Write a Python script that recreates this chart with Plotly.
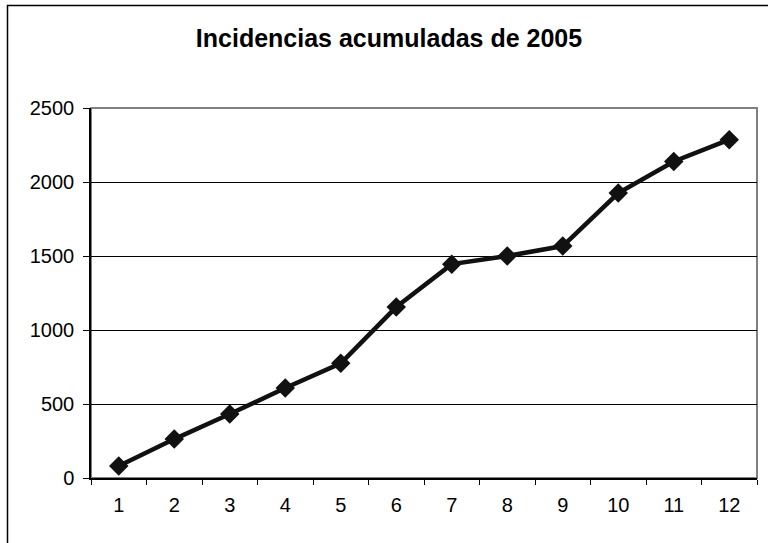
import plotly.graph_objects as go

months = ["1", "2", "3", "4", "5", "6", "7", "8", "9", "10", "11", "12"]
incidencias = [81, 263, 432, 608, 775, 1155, 1445, 1500, 1567, 1925, 2139, 2286]
y_ticks = [0, 500, 1000, 1500, 2000, 2500]
title_text = "Incidencias acumuladas de 2005"

FONT = "Liberation Sans, Arial, sans-serif"

fig = go.Figure()
fig.add_trace(go.Scatter(
    x=months, y=incidencias, mode="lines+markers",
    line=dict(color="#111111", width=4.5),
    marker=dict(symbol="diamond", size=15, color="#111111"),
    showlegend=False, cliponaxis=False,
))

W, H = 768, 543
L, R, T, B = 91, 11, 108, 65
pw, ph = W - L - R, H - T - B

def px_x(x):
    return (x - L) / pw

def px_y(y):
    return (H - B - y) / ph

fig.update_layout(
    width=W, height=H,
    margin=dict(l=L, r=R, t=T, b=B, pad=0),
    paper_bgcolor="white", plot_bgcolor="white",
    font=dict(family=FONT, color="black", size=20),
    title=dict(text="<b>" + title_text + "</b>", x=389 / W, xanchor="center",
               xref="container", yref="container", y=1 - 38 / H, yanchor="middle",
               font=dict(family=FONT, size=25, color="black")),
    xaxis=dict(
        type="category", tickson="boundaries", ticks="outside", ticklen=5,
        tickcolor="black", tickwidth=1, showline=True, linecolor="black",
        linewidth=1.5, showgrid=False, ticklabelstandoff=8,
        tickfont=dict(size=20, family=FONT, color="black"),
        range=[-0.5, 11.5], fixedrange=True,
    ),
    yaxis=dict(
        range=[0, 2500], tickvals=y_ticks, ticks="outside", ticklen=6,
        tickcolor="black", tickwidth=1, showline=True, linecolor="black",
        linewidth=1.5, showgrid=True, gridcolor="black", gridwidth=1,
        zeroline=False, ticklabelstandoff=5,
        tickfont=dict(size=20, family=FONT, color="black"),
    ),
    shapes=[
        dict(type="rect", xref="paper", yref="paper", x0=0, x1=1, y0=0, y1=1,
             line=dict(color="#808080", width=2), layer="below"),
        dict(type="rect", xref="paper", yref="paper",
             x0=px_x(7.5), x1=1.3, y0=-0.4, y1=px_y(5.5),
             line=dict(color="black", width=1.5), layer="below"),
    ],
)

fig.write_html(
    "out.html",
    config={"displayModeBar": False},
    post_script="document.body.style.margin='0';document.body.style.overflow='hidden';",
)
